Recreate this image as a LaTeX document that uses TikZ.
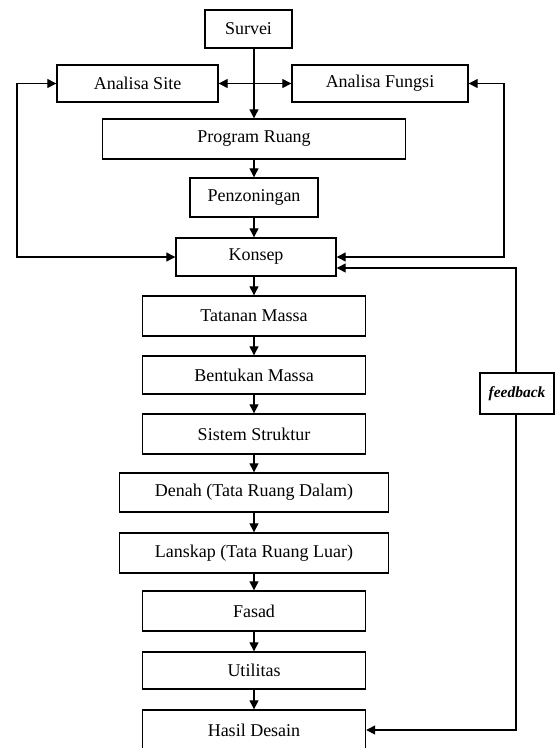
\documentclass[tikz,border=0pt]{standalone}
\usepackage{fontspec}
\setmainfont{Liberation Serif}
\usepackage{tikz}
\usetikzlibrary{positioning,arrows.meta}
\tikzset{
box/.style={draw, line width=1.4pt, minimum height=39pt, inner sep=0pt, font=\fontsize{18}{20}\selectfont},
wide/.style={minimum width=223pt},
flow/.style={line width=1.3pt, -{Triangle[length=9pt,width=9pt]}},
twoway/.style={line width=1.3pt, {Triangle[length=9pt,width=9pt]}-{Triangle[length=9pt,width=9pt]}}
}

\begin{document}
\begin{tikzpicture}[x=1pt,y=-1pt]
\useasboundingbox (0,0) rectangle (556,748);
% upper part
\node[box, minimum width=87pt, minimum height=38pt] (survei) at (248.5,29) {Survei};
\node[box, minimum width=161pt, minimum height=37pt] (site) at (137.5,83.5) {Analisa Site};
\node[box, minimum width=176pt, minimum height=37pt] (fungsi) at (380,83.5) {Analisa Fungsi};
\node[box, minimum width=303pt, minimum height=40pt] (program) at (254,139) {Program Ruang};
\node[box, minimum width=128pt] (zoning) at (254,197.5) {Penzoningan};
\node[box, minimum width=160pt, minimum height=38pt] (konsep) at (256,257) {Konsep};
% main column
\node[box, wide, minimum height=40pt] (tatanan) at (254,316) {Tatanan Massa};
\node[box, wide, minimum height=38pt] (bentukan) at (254,375) {Bentukan Massa};
\node[box, wide, minimum height=40pt] (struktur) at (254,434) {Sistem Struktur};
\node[box, minimum width=269pt] (denah) at (254,492.5) {Denah (Tata Ruang Dalam)};
\node[box, minimum width=269pt, minimum height=40pt] (lanskap) at (254,553) {Lanskap (Tata Ruang Luar)};
\node[box, wide, minimum height=40pt] (fasad) at (254,611) {Fasad};
\node[box, wide, minimum height=37pt] (utilitas) at (254,670.5) {Utilitas};
\node[box, wide, minimum height=40pt] (hasil) at (254,730) {Hasil Desain};
\node[box, minimum width=74pt, minimum height=41pt, font=\fontsize{15.5}{17}\selectfont\bfseries\itshape] (fb) at (517,393.5) {feedback};
\coordinate (cross) at (program.north |- site.east);
\coordinate (lft) at (17,83.5);
\coordinate (rgt) at (504,83.5);
\coordinate (fbtop) at (516,268);
% connectors
\draw[flow] (survei.south -| program.north) -- (program.north);
\draw[flow] (cross) -- (site.east);
\draw[flow] (cross) -- (fungsi.west);
\draw[flow] (program) -- (zoning);
\draw[flow] (zoning) -- (zoning |- konsep.north);
\draw[twoway] (site.west) -- (lft) |- (konsep.west);
\draw[twoway] (fungsi.east) -- (rgt) |- (konsep.east);
\draw[flow] (konsep.south -| tatanan.north) -- (tatanan);
\draw[flow] (tatanan) -- (bentukan);
\draw[flow] (bentukan) -- (struktur);
\draw[flow] (struktur) -- (denah);
\draw[flow] (denah) -- (lanskap);
\draw[flow] (lanskap) -- (fasad);
\draw[flow] (fasad) -- (utilitas);
\draw[flow] (utilitas) -- (hasil);
\draw[flow] (fb.north -| fbtop) -- (fbtop) -- ([yshift=-11pt]konsep.east);
\draw[flow] (fb.south -| fbtop) |- (hasil.east);
\end{tikzpicture}
\end{document}
